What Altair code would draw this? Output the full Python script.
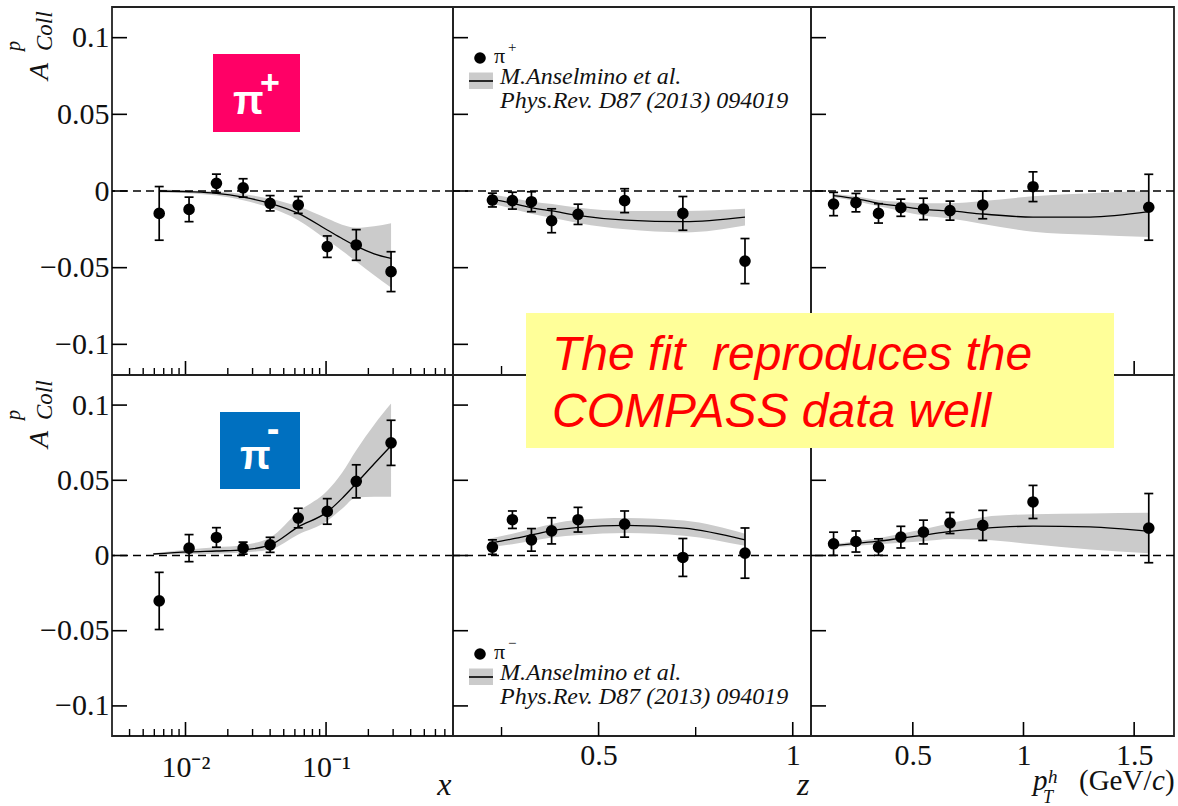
import altair as alt
import pandas as pd

# ---------------- data ----------------
# x panel
x_pts = [0.0065, 0.0106, 0.0166, 0.0257, 0.0400, 0.0634, 0.102, 0.164, 0.290]
pip_x_val = [-0.0146, -0.0120, 0.0050, 0.0020, -0.0080, -0.0091, -0.0363, -0.0352, -0.0526]
pip_x_err = [0.0175, 0.0080, 0.0060, 0.0060, 0.0050, 0.0055, 0.0070, 0.0100, 0.0130]
pim_x_val = [-0.0302, 0.0049, 0.0120, 0.0049, 0.0071, 0.0249, 0.0293, 0.0493, 0.0749]
pim_x_err = [0.0190, 0.0090, 0.0065, 0.0040, 0.0050, 0.0065, 0.0085, 0.0110, 0.0150]

fit_x_pip = [0.0065, 0.0106, 0.0166, 0.0257, 0.0400, 0.0634, 0.102, 0.130, 0.164, 0.220, 0.290]
pip_x_fit = [0.0000, -0.0005, -0.0015, -0.0040, -0.0080, -0.0146, -0.0254, -0.0310, -0.0360, -0.0410, -0.0440]
pip_x_hi = [0.0010, 0.0004, -0.0004, -0.0020, -0.0050, -0.0100, -0.0180, -0.0220, -0.0240, -0.0230, -0.0210]
pip_x_lo = [-0.0010, -0.0015, -0.0030, -0.0060, -0.0110, -0.0190, -0.0320, -0.0390, -0.0460, -0.0550, -0.0630]

fit_x_pim = [0.0059, 0.0106, 0.0166, 0.0257, 0.0400, 0.0634, 0.102, 0.130, 0.164, 0.220, 0.290]
pim_x_fit = [0.0010, 0.0024, 0.0030, 0.0037, 0.0070, 0.0190, 0.0290, 0.0380, 0.0480, 0.0610, 0.0730]
pim_x_hi = [0.0015, 0.0040, 0.0055, 0.0070, 0.0120, 0.0290, 0.0430, 0.0550, 0.0700, 0.0870, 0.1010]
pim_x_lo = [0.0005, 0.0010, 0.0012, 0.0020, 0.0040, 0.0140, 0.0230, 0.0310, 0.0385, 0.0390, 0.0390]

# z panel
z_pts = [0.2265, 0.278, 0.327, 0.379, 0.447, 0.567, 0.717, 0.877]
pip_z_val = [-0.0059, -0.0063, -0.0070, -0.0194, -0.0152, -0.0063, -0.0146, -0.0457]
pip_z_err = [0.0045, 0.0055, 0.0065, 0.0078, 0.0066, 0.0078, 0.0110, 0.0147]
pim_z_val = [0.0056, 0.0238, 0.0104, 0.0164, 0.0238, 0.0209, -0.0013, 0.0016]
pim_z_err = [0.0048, 0.0058, 0.0075, 0.0087, 0.0082, 0.0087, 0.0126, 0.0167]

fit_z = [0.218, 0.278, 0.330, 0.380, 0.450, 0.570, 0.720, 0.877]
pip_z_fit = [-0.0050, -0.0080, -0.0110, -0.0130, -0.0160, -0.0190, -0.0200, -0.0170]
pip_z_hi = [-0.0020, -0.0045, -0.0070, -0.0085, -0.0110, -0.0130, -0.0130, -0.0115]
pip_z_lo = [-0.0080, -0.0115, -0.0150, -0.0175, -0.0210, -0.0250, -0.0270, -0.0225]
pim_z_fit = [0.0082, 0.0110, 0.0138, 0.0165, 0.0187, 0.0200, 0.0182, 0.0104]
pim_z_hi = [0.0112, 0.0145, 0.0178, 0.0210, 0.0237, 0.0250, 0.0232, 0.0144]
pim_z_lo = [0.0052, 0.0075, 0.0098, 0.0120, 0.0137, 0.0150, 0.0132, 0.0064]

# pT panel
pt_pts = [0.142, 0.243, 0.345, 0.446, 0.548, 0.668, 0.816, 1.043, 1.566]
pip_pt_val = [-0.0085, -0.0076, -0.0146, -0.0109, -0.0117, -0.0128, -0.0091, 0.0028, -0.0106]
pip_pt_err = [0.0076, 0.0060, 0.0063, 0.0056, 0.0070, 0.0062, 0.0090, 0.0097, 0.0215]
pim_pt_val = [0.0078, 0.0093, 0.0056, 0.0122, 0.0156, 0.0216, 0.0200, 0.0356, 0.0182]
pim_pt_err = [0.0077, 0.0070, 0.0055, 0.0072, 0.0079, 0.0070, 0.0100, 0.0110, 0.0230]

fit_pt = [0.142, 0.243, 0.345, 0.446, 0.548, 0.668, 0.816, 1.043, 1.300, 1.566]
pip_pt_fit = [-0.0030, -0.0050, -0.0080, -0.0100, -0.0120, -0.0130, -0.0150, -0.0170, -0.0170, -0.0135]
pip_pt_hi = [-0.0020, -0.0035, -0.0060, -0.0070, -0.0080, -0.0080, -0.0065, -0.0035, -0.0015, 0.0000]
pip_pt_lo = [-0.0040, -0.0065, -0.0100, -0.0130, -0.0160, -0.0180, -0.0215, -0.0265, -0.0285, -0.0300]
pim_pt_fit = [0.0065, 0.0080, 0.0095, 0.0115, 0.0135, 0.0160, 0.0180, 0.0195, 0.0190, 0.0160]
pim_pt_hi = [0.0075, 0.0095, 0.0115, 0.0145, 0.0175, 0.0215, 0.0255, 0.0275, 0.0280, 0.0285]
pim_pt_lo = [0.0055, 0.0065, 0.0075, 0.0085, 0.0095, 0.0110, 0.0105, 0.0075, 0.0040, 0.0015]

# ticks and labels
y_ticks = [-0.1, -0.05, 0.0, 0.05, 0.1]
x_major = [0.01, 0.1]
x_major_labels = ["10⁻²", "10⁻¹"]
x_minor = [0.004, 0.005, 0.006, 0.007, 0.008, 0.009,
           0.02, 0.03, 0.04, 0.05, 0.06, 0.07, 0.08, 0.09,
           0.2, 0.3, 0.4, 0.5, 0.6, 0.7]
z_major = [0.5, 1.0]
z_minor = [0.25, 0.75]
pt_major = [0.5, 1.0, 1.5]

legend_ref1 = "M.Anselmino et al."
legend_ref2 = "Phys.Rev. D87 (2013) 094019"
note_line1 = "The fit\u00a0 reproduces the"
note_line2 = "COMPASS data well"

# ---------------- styling ----------------
SERIF = "Liberation Serif"
SANS = "Liberation Sans"
INK = "#111111"
BAND = "#cbcbcb"
W = [341, 358, 363]
H = [368, 361]
YSC = alt.Scale(domain=[-0.12, 0.12], nice=False, zero=False)
ONE = pd.DataFrame({"a": [0]})
DOT = 135


def txt(x, y, s, size, font=SERIF, style="normal", weight="normal", color=INK,
        align="left", baseline="alphabetic", angle=None):
    kw = dict(text=s, font=font, fontSize=size, fontStyle=style, fontWeight=weight,
              color=color, align=align, baseline=baseline)
    enc = dict(x=alt.value(x), y=alt.value(y))
    if angle is not None:
        enc["angle"] = alt.value(angle)
    return alt.Chart(ONE).mark_text(**kw).encode(**enc)


def box(x1, x2, y1, y2, color):
    return alt.Chart(ONE).mark_rect(color=color, opacity=1).encode(
        x=alt.value(x1), x2=alt.value(x2), y=alt.value(y1), y2=alt.value(y2))


def hrule(x1, x2, y, color="black", width=1.6, opacity=1):
    return alt.Chart(ONE).mark_rule(color=color, strokeWidth=width, opacity=opacity).encode(
        x=alt.value(x1), x2=alt.value(x2), y=alt.value(y))


def panel(w, h, xscale, xaxis, yaxis, px, val, err, fx, fc, flo, fhi,
          major, minor, minor_len, extras):
    def X(f):
        return alt.X(f, type="quantitative", scale=xscale, axis=xaxis)

    def Y(f):
        return alt.Y(f, type="quantitative", scale=YSC, axis=yaxis)

    pts = pd.DataFrame({"x": px, "v": val,
                        "lo": [v - e for v, e in zip(val, err)],
                        "hi": [v + e for v, e in zip(val, err)]})
    fit = pd.DataFrame({"x": fx, "c": fc, "lo": flo, "hi": fhi})

    layers = [
        alt.Chart(fit).mark_area(color=BAND, opacity=1, interpolate="monotone").encode(
            x=X("x"), y=Y("lo"), y2="hi"),
        alt.Chart(fit).mark_line(color="black", strokeWidth=1.3, interpolate="monotone").encode(
            x=X("x"), y=Y("c")),
        alt.Chart(pd.DataFrame({"z": [0.0]})).mark_rule(
            color="black", strokeWidth=1.5, strokeDash=[8, 5]).encode(y=Y("z")),
        alt.Chart(pts).mark_rule(color="black", strokeWidth=1.7).encode(
            x=X("x"), y=Y("lo"), y2="hi"),
        alt.Chart(pts).mark_tick(color="black", orient="horizontal", size=9,
                                 thickness=1.7, opacity=1).encode(x=X("x"), y=Y("lo")),
        alt.Chart(pts).mark_tick(color="black", orient="horizontal", size=9,
                                 thickness=1.7, opacity=1).encode(x=X("x"), y=Y("hi")),
        alt.Chart(pts).mark_circle(color="black", size=DOT, opacity=1).encode(
            x=X("x"), y=Y("v")),
        alt.Chart(pd.DataFrame({"t": y_ticks})).mark_rule(color="black", strokeWidth=1.6).encode(
            y=Y("t"), x=alt.value(0), x2=alt.value(15)),
        alt.Chart(pd.DataFrame({"t": major})).mark_rule(color="black", strokeWidth=1.6).encode(
            x=X("t"), y=alt.value(h), y2=alt.value(h - 14)),
    ]
    if minor:
        layers.append(
            alt.Chart(pd.DataFrame({"t": minor})).mark_rule(color="black", strokeWidth=1.4).encode(
                x=X("t"), y=alt.value(h), y2=alt.value(h - minor_len)))
    return alt.layer(*layers, *extras).properties(width=w, height=h)


def yaxis_left():
    return alt.Axis(values=y_ticks, labelExpr="format(datum.value, '~g')", ticks=False,
                    domain=False, grid=False, labelFont=SERIF, labelFontSize=30,
                    labelColor=INK, labelPadding=3, labelBaseline="middle",
                    labelFlush=False, labelOverlap=False, title=None)


def xaxis_bottom(values, expr, pad, title, w):
    kw = dict(values=values, labelExpr=expr, ticks=False, domain=False, grid=False,
              labelFont=SERIF, labelFontSize=30, labelColor=INK, labelPadding=pad,
              labelBaseline="alphabetic", labelFlush=False, labelOverlap=False)
    if title:
        kw.update(title=title, titleFont=SERIF, titleFontSize=32, titleFontStyle="italic",
                  titleFontWeight="normal", titleColor=INK, titleAlign="right",
                  titleBaseline="alphabetic", titleX=w - 2, titleY=58)
    else:
        kw.update(title=None)
    return alt.Axis(**kw)


XS_LOG = alt.Scale(type="log", domain=[0.003, 0.8], nice=False, zero=False)
XS_Z = alt.Scale(domain=[0.125, 1.047], nice=False, zero=False)
XS_PT = alt.Scale(domain=[0.04, 1.68], nice=False, zero=False)

x_expr = "datum.value < 0.03 ? '%s' : '%s'" % (x_major_labels[0], x_major_labels[1])
g_expr = "format(datum.value, '~g')"


def ytitle(yA, yS):
    return [
        txt(-64, yA, "A", 28, style="italic", angle=270),
        txt(-92, yS, "p", 20, style="italic", angle=270),
        txt(-60, yS, "Coll", 23, style="italic", angle=270),
    ]


def legend(dy, sign):
    return [
        alt.Chart(ONE).mark_circle(color="black", size=DOT, opacity=1).encode(
            x=alt.value(27), y=alt.value(dy)),
        txt(41, dy + 5, "π", 22),
        txt(55, dy - 6, sign, 15),
        box(16, 40, dy + 14.5, dy + 31, BAND),
        hrule(16, 40, dy + 23, width=1.6),
        txt(47, dy + 26, legend_ref1, 24, style="italic"),
        txt(47, dy + 50, legend_ref2, 24, style="italic"),
    ]


# ---------------- panels ----------------
tl = panel(W[0], H[0], XS_LOG, None, yaxis_left(), x_pts, pip_x_val, pip_x_err,
           fit_x_pip, pip_x_fit, pip_x_lo, pip_x_hi, x_major, x_minor, 7,
           [hrule(-111, -105, -6, opacity=0)] + ytitle(73, 44) + [
               box(101, 188, 47, 125, "#FF0066"),
               txt(121, 107, "π", 40, font=SANS, weight="bold", color="white"),
               txt(158, 77, "+", 34, font=SANS, weight="bold", color="white",
                   align="center", baseline="middle"),
           ])

tm = panel(W[1], H[0], XS_Z, None, None, z_pts, pip_z_val, pip_z_err,
           fit_z, pip_z_fit, pip_z_lo, pip_z_hi, z_major, z_minor, 9, legend(51, "+"))

tr = panel(W[2], H[0], XS_PT, None, None, pt_pts, pip_pt_val, pip_pt_err,
           fit_pt, pip_pt_fit, pip_pt_lo, pip_pt_hi, pt_major, None, 0, [])

bl = panel(W[0], H[1], XS_LOG, xaxis_bottom(x_major, x_expr, 40, "x", W[0]), yaxis_left(),
           x_pts, pim_x_val, pim_x_err, fit_x_pim, pim_x_fit, pim_x_lo, pim_x_hi,
           x_major, x_minor, 7,
           ytitle(73, 45) + [
               box(108, 188, 37, 114, "#0070C0"),
               txt(128, 94, "π", 40, font=SANS, weight="bold", color="white"),
               txt(161, 56, "-", 38, font=SANS, weight="bold", color="white",
                   align="center", baseline="middle"),
           ])

bm = panel(W[1], H[1], XS_Z, xaxis_bottom(z_major, g_expr, 28, "z", W[1]), None,
           z_pts, pim_z_val, pim_z_err, fit_z, pim_z_fit, pim_z_lo, pim_z_hi,
           z_major, z_minor, 9, legend(279, "−"))

br = panel(W[2], H[1], XS_PT, xaxis_bottom(pt_major, g_expr, 28, None, W[2]), None,
           pt_pts, pim_pt_val, pim_pt_err, fit_pt, pim_pt_fit, pim_pt_lo, pim_pt_hi,
           pt_major, None, 0,
           [
               txt(222, 415, "p", 29, style="italic"),
               txt(237, 408, "h", 19, style="italic"),
               txt(232, 428, "T", 18, style="italic"),
               txt(268, 415, "(GeV/", 29),
               txt(341, 415, "c", 29, style="italic"),
               txt(354, 415, ")", 29),
               box(-285, 303, -62, 73, "#FFFF99"),
               txt(-259, -5, note_line1, 48, font=SANS, style="italic", color="#FF0000"),
               txt(-259, 52, note_line2, 48, font=SANS, style="italic", color="#FF0000"),
           ])

chart = alt.concat(tl, tm, tr, bl, bm, br, columns=3, spacing=0, bounds="flush",
                   align="each").properties(padding=0).configure_view(
    stroke="#222222", strokeWidth=1.8)

chart.save("out.html", embed_options={"renderer": "svg", "actions": False})
